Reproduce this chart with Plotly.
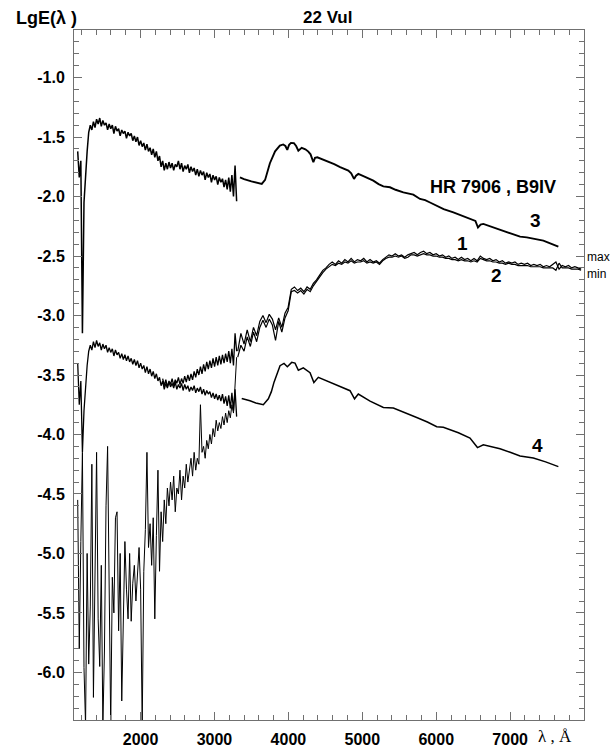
import numpy as np
import plotly.graph_objects as go

# ---------------- data ----------------
# wavelength sampling grids (Angstrom)
uv_wl = np.linspace(1150, 3300, 102)          # IUE ultraviolet part
vis12_wl = np.linspace(3315, 7960, 110)       # visible part of curves 1, 2

# curve 3 (HR 7906, upper) - UV
c3_uv = [
    -1.62, -1.84, -1.70, -3.15, -2.05, -1.80, -1.62, -1.46, -1.40, -1.44,
    -1.37, -1.42, -1.35, -1.39, -1.34, -1.41, -1.36, -1.40, -1.38, -1.44,
    -1.39, -1.43, -1.40, -1.47, -1.41, -1.45, -1.43, -1.49, -1.44, -1.47,
    -1.45, -1.51, -1.46, -1.49, -1.47, -1.53, -1.49, -1.54, -1.50, -1.57,
    -1.53, -1.58, -1.55, -1.61, -1.56, -1.62, -1.59, -1.65, -1.60, -1.67,
    -1.62, -1.70, -1.66, -1.75, -1.70, -1.78, -1.72, -1.77, -1.71, -1.76,
    -1.72, -1.78, -1.73, -1.75, -1.70, -1.77, -1.72, -1.79, -1.74, -1.77,
    -1.73, -1.80, -1.75, -1.79, -1.76, -1.82, -1.77, -1.83, -1.78, -1.82,
    -1.79, -1.86, -1.80, -1.84, -1.81, -1.88, -1.82, -1.86, -1.83, -1.90,
    -1.84, -1.88, -1.85, -1.92, -1.86, -1.94, -1.84, -1.96, -1.82, -2.00,
    -1.74, -2.04]

# curve 4 (HR 7906, lower) - UV
c4_uv = [
    -3.40, -3.75, -3.55, -4.15, -3.80, -3.60, -3.42, -3.30, -3.25, -3.29,
    -3.22, -3.27, -3.21, -3.26, -3.23, -3.29, -3.24, -3.28, -3.25, -3.31,
    -3.27, -3.31, -3.28, -3.34, -3.29, -3.33, -3.31, -3.36, -3.32, -3.37,
    -3.33, -3.38, -3.34, -3.39, -3.36, -3.41, -3.37, -3.42, -3.38, -3.44,
    -3.40, -3.45, -3.42, -3.48, -3.43, -3.49, -3.45, -3.51, -3.47, -3.53,
    -3.49, -3.55, -3.52, -3.59, -3.55, -3.62, -3.57, -3.61, -3.56, -3.60,
    -3.57, -3.61, -3.56, -3.62, -3.58, -3.61, -3.57, -3.63, -3.58, -3.62,
    -3.59, -3.64, -3.60, -3.63, -3.59, -3.65, -3.61, -3.64, -3.60, -3.66,
    -3.62, -3.67, -3.63, -3.66, -3.64, -3.69, -3.65, -3.70, -3.66, -3.71,
    -3.67, -3.72, -3.66, -3.74, -3.68, -3.76, -3.67, -3.78, -3.65, -3.80,
    -3.62, -3.85]

# curve 2 (22 Vul, min) - UV, very noisy
c2_uv = [
    -4.55, -5.80, -4.90, -4.15, -5.96, -6.45, -5.00, -5.93, -5.45, -4.25,
    -6.21, -5.30, -4.15, -5.55, -5.95, -5.10, -6.45, -5.82, -4.60, -4.10,
    -5.40, -6.45, -5.20, -5.50, -4.70, -4.65, -5.65, -5.00, -6.24, -5.45,
    -4.90, -5.30, -5.55, -5.00, -5.57, -5.25, -5.10, -5.40, -5.20, -4.95,
    -5.30, -6.45, -5.15, -4.80, -4.15, -4.95, -4.75, -5.10, -4.70, -5.55,
    -4.85, -4.30, -5.15, -4.65, -4.90, -4.55, -4.75, -4.45, -4.60, -4.40,
    -4.55, -4.35, -4.65, -4.45, -4.50, -4.30, -4.55, -4.35, -4.45, -4.25,
    -4.40, -4.30, -4.20, -4.35, -4.15, -4.30, -4.20, -4.25, -3.75, -4.15,
    -4.10, -4.20, -4.05, -4.12, -4.00, -4.08, -3.95, -4.02, -3.88, -3.97,
    -3.90, -3.95, -3.85, -3.92, -3.82, -3.90, -3.80, -3.86, -3.75, -3.82,
    -3.60, -3.35]

# curve 1 (22 Vul, max) - UV, long-wave end (grid points 54..101)
c1_uv = [
    -3.53, -3.59, -3.54, -3.60, -3.55, -3.58, -3.53, -3.59, -3.54, -3.57,
    -3.52, -3.58, -3.53, -3.57, -3.51, -3.56, -3.50, -3.55, -3.49, -3.54,
    -3.47, -3.52, -3.45, -3.50, -3.43, -3.49, -3.41, -3.47, -3.39, -3.45,
    -3.38, -3.44, -3.36, -3.43, -3.35, -3.42, -3.34, -3.41, -3.33, -3.40,
    -3.32, -3.39, -3.30, -3.40, -3.28, -3.42, -3.15, -3.30]

# curves 1 and 2 - visible
c1_vis = [
    -3.30, -3.15, -3.24, -3.12, -3.22, -3.10, -3.17, -3.05, -3.00, -3.06,
    -2.99, -3.03, -3.12, -3.02, -3.10, -2.98, -2.93, -2.78, -2.76, -2.79,
    -2.77, -2.80, -2.76, -2.78, -2.73, -2.70, -2.66, -2.62, -2.60, -2.57,
    -2.55, -2.57, -2.54, -2.56, -2.53, -2.55, -2.52, -2.55, -2.53, -2.54,
    -2.52, -2.55, -2.53, -2.55, -2.54, -2.56, -2.53, -2.51, -2.49, -2.50,
    -2.48, -2.50, -2.49, -2.51, -2.49, -2.48, -2.47, -2.49, -2.47, -2.46,
    -2.48, -2.47, -2.49, -2.48, -2.50, -2.49, -2.51, -2.50, -2.52, -2.51,
    -2.53, -2.51, -2.53, -2.52, -2.54, -2.52, -2.54, -2.50, -2.52, -2.53,
    -2.52, -2.54, -2.53, -2.55, -2.54, -2.56, -2.55, -2.56, -2.55, -2.57,
    -2.56, -2.57, -2.56, -2.58, -2.57, -2.58, -2.57, -2.59, -2.58, -2.59,
    -2.57, -2.55, -2.61, -2.58, -2.59, -2.58, -2.60, -2.59, -2.60, -2.61]

c2_vis = [
    -3.35, -3.25, -3.30, -3.18, -3.26, -3.14, -3.22, -3.10, -3.04, -3.10,
    -3.03, -3.08, -3.21, -3.05, -3.14, -3.02, -2.96, -2.80, -2.79, -2.81,
    -2.79, -2.82, -2.78, -2.80, -2.75, -2.71, -2.68, -2.64, -2.61, -2.59,
    -2.57, -2.58, -2.56, -2.57, -2.55, -2.56, -2.54, -2.56, -2.55, -2.55,
    -2.54, -2.56, -2.55, -2.56, -2.55, -2.57, -2.54, -2.52, -2.51, -2.51,
    -2.50, -2.51, -2.50, -2.52, -2.51, -2.49, -2.49, -2.50, -2.49, -2.48,
    -2.49, -2.49, -2.50, -2.50, -2.51, -2.51, -2.52, -2.52, -2.53, -2.53,
    -2.54, -2.53, -2.54, -2.54, -2.55, -2.54, -2.55, -2.52, -2.53, -2.54,
    -2.54, -2.55, -2.55, -2.56, -2.56, -2.57, -2.56, -2.57, -2.57, -2.58,
    -2.58, -2.58, -2.58, -2.59, -2.59, -2.59, -2.59, -2.60, -2.60, -2.60,
    -2.60, -2.62, -2.56, -2.60, -2.60, -2.60, -2.61, -2.61, -2.61, -2.62]

# curve 3 - visible
c3_vis_wl = [3345, 3400, 3500, 3600, 3640, 3685, 3750, 3820, 3885, 3930,
             3960, 3985, 4010, 4035, 4075, 4105, 4135, 4180, 4230, 4270,
             4300, 4338, 4360, 4392, 4450, 4500, 4563, 4620, 4700, 4760,
             4811, 4850, 4888, 4915, 4946, 5000, 5080, 5149, 5220, 5285,
             5375, 5450, 5555, 5690, 5781, 5850, 5916, 6007, 6100, 6232,
             6350, 6480, 6530, 6565, 6600, 6637, 6750, 6908, 7020, 7134,
             7225, 7340, 7449, 7550, 7652]
c3_vis = [-1.838, -1.853, -1.872, -1.888, -1.894, -1.860, -1.720, -1.620, -1.572, -1.562,
          -1.575, -1.608, -1.565, -1.549, -1.551, -1.575, -1.614, -1.591, -1.603, -1.622,
          -1.645, -1.712, -1.675, -1.670, -1.684, -1.697, -1.712, -1.728, -1.752, -1.768,
          -1.782, -1.805, -1.852, -1.825, -1.810, -1.825, -1.845, -1.866, -1.895, -1.914,
          -1.922, -1.943, -1.965, -1.984, -2.020, -2.030, -2.050, -2.078, -2.105, -2.133,
          -2.160, -2.190, -2.205, -2.260, -2.235, -2.230, -2.255, -2.287, -2.310, -2.337,
          -2.343, -2.356, -2.371, -2.395, -2.421]

# curve 4 - visible
c4_vis_wl = [3369, 3420, 3481, 3560, 3661, 3729, 3770, 3806, 3850, 3887,
             3941, 3986, 4045, 4090, 4135, 4202, 4293, 4345, 4405, 4500,
             4631, 4740, 4834, 4895, 4946, 5105, 5285, 5420, 5580, 5736,
             5880, 6007, 6096, 6300, 6457, 6558, 6637, 6863, 7000, 7134,
             7314, 7480, 7652]
c4_vis = [-3.697, -3.705, -3.717, -3.735, -3.750, -3.700, -3.640, -3.560, -3.480, -3.422,
          -3.403, -3.430, -3.394, -3.400, -3.460, -3.440, -3.480, -3.563, -3.520, -3.545,
          -3.580, -3.605, -3.632, -3.700, -3.660, -3.720, -3.773, -3.778, -3.815, -3.857,
          -3.895, -3.935, -3.940, -3.985, -4.030, -4.110, -4.087, -4.120, -4.150, -4.180,
          -4.198, -4.230, -4.270]

# axis ticks
x_tickvals = [2000, 3000, 4000, 5000, 6000, 7000]
x_ticktext = ["2000", "3000", "4000", "5000", "6000", "7000"]
y_tickvals = [-1.0, -1.5, -2.0, -2.5, -3.0, -3.5, -4.0, -4.5, -5.0, -5.5, -6.0]
y_ticktext = ["-1.0", "-1.5", "-2.0", "-2.5", "-3.0", "-3.5", "-4.0", "-4.5", "-5.0", "-5.5", "-6.0"]

# curve labels
label_text = ["1", "2", "3", "4"]
label_x = [6349, 6809, 7337, 7364]
label_y = [-2.396, -2.665, -2.203, -4.095]

# ---------------- figure ----------------
BOLD = dict(family="Liberation Sans, Arial, sans-serif", color="black", weight="bold")
AX = "#707070"

fig = go.Figure()

def add(x, y, w):
    fig.add_trace(go.Scatter(x=list(x), y=y, mode="lines",
                             line=dict(color="black", width=w),
                             hoverinfo="skip", showlegend=False))

add(uv_wl, c2_uv, 1.0)
add(uv_wl[54:], c1_uv, 1.3)
add(uv_wl, c4_uv, 1.3)
add(uv_wl, c3_uv, 1.5)
add(vis12_wl, c2_vis, 1.2)
add(vis12_wl, c1_vis, 1.2)
add(c3_vis_wl, c3_vis, 1.9)
add(c4_vis_wl, c4_vis, 1.5)

xax = dict(range=[1100, 7999], tickmode="array", tickvals=x_tickvals, ticktext=x_ticktext,
           ticks="inside", ticklen=8, tickwidth=1, tickcolor=AX,
           showline=True, linecolor=AX, linewidth=1, mirror="ticks",
           showgrid=False, zeroline=False, automargin=False,
           tickfont=dict(size=16, **BOLD), ticklabelstandoff=5,
           minor=dict(dtick=200, tick0=1000, ticks="inside", ticklen=5,
                      tickcolor=AX, tickwidth=1, showgrid=False))
yax = dict(range=[-6.4, -0.6], tickmode="array", tickvals=y_tickvals, ticktext=y_ticktext,
           ticks="inside", ticklen=8, tickwidth=1, tickcolor=AX,
           showline=True, linecolor=AX, linewidth=1, mirror="ticks",
           showgrid=False, zeroline=False, automargin=False,
           tickfont=dict(size=16, **BOLD), ticklabelstandoff=5,
           minor=dict(dtick=0.1, tick0=-1.0, ticks="inside", ticklen=5,
                      tickcolor=AX, tickwidth=1, showgrid=False))

fig.update_layout(
    width=616, height=749,
    margin=dict(l=74, r=32, t=30, b=29),
    plot_bgcolor="white", paper_bgcolor="white",
    showlegend=False,
    xaxis=xax, yaxis=yax,
)

ann = []
for t, x, y in zip(label_text, label_x, label_y):
    ann.append(dict(x=x, y=y, xref="x", yref="y", text=t, showarrow=False,
                    font=dict(size=19, **BOLD)))
ann.append(dict(x=6769, y=-1.917, xref="x", yref="y", text="HR 7906 , B9IV",
                showarrow=False, font=dict(size=18, **BOLD)))
ann.append(dict(x=0.498, y=1.0174, xref="paper", yref="paper", text="22 Vul",
                showarrow=False, yanchor="middle", font=dict(size=17, **BOLD)))
ann.append(dict(x=-0.1176, y=1.0174, xref="paper", yref="paper", text="LgE(λ )",
                showarrow=False, xanchor="left", yanchor="middle", font=dict(size=18, **BOLD)))
ann.append(dict(x=1.004, y=-2.512, xref="paper", yref="y", text="max", showarrow=False,
                xanchor="left", borderpad=0,
                font=dict(size=12, family="Liberation Sans, Arial", color="black")))
ann.append(dict(x=1.004, y=-2.647, xref="paper", yref="y", text="min", showarrow=False,
                xanchor="left", borderpad=0,
                font=dict(size=12, family="Liberation Sans, Arial", color="black")))
ann.append(dict(x=7607, y=-0.0245, xref="x", yref="paper", text="λ , Å", showarrow=False,
                yanchor="middle", borderpad=0,
                font=dict(size=17, family="Liberation Serif, Times New Roman, serif",
                          color="black")))
fig.update_layout(annotations=ann)

# remove the default 8px page margin so the figure sits at the window origin
fig.write_html("out.html", config={"displayModeBar": False},
               post_script="document.body.style.margin='0';document.body.style.overflow='hidden';")
